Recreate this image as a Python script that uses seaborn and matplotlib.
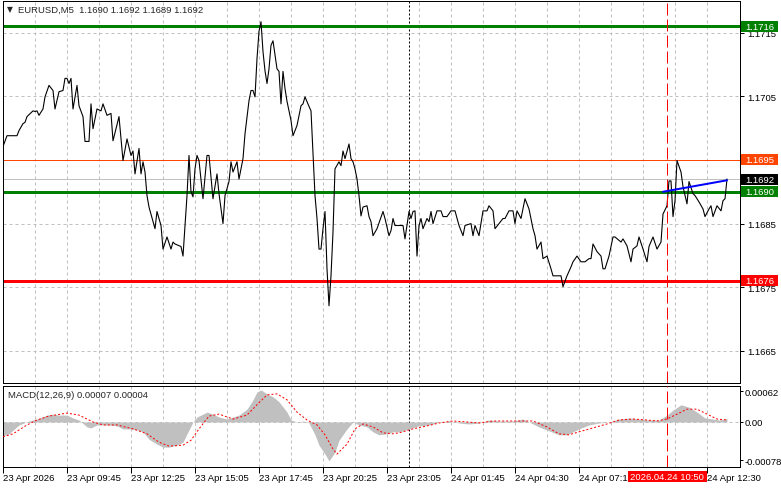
import matplotlib
matplotlib.use("Agg")
import matplotlib.pyplot as plt
import matplotlib.transforms as mtransforms
from matplotlib.patches import Rectangle
import pandas as pd
import seaborn as sns

# ---- data (bar = number of M5 bars since 23 Apr 07:05) ----
symbol_title = "EURUSD,M5  1.1690 1.1692 1.1689 1.1692"
macd_title = "MACD(12,26,9) 0.00007 0.00004"

price_bars = [
    0, 2, 7, 8, 10, 11, 12, 15, 16, 17,
    18, 20, 21, 23, 25, 26, 28, 30, 31, 32,
    33, 34, 35, 37, 38, 40, 41, 43, 44, 45,
    47, 49, 50, 52, 54, 55, 58, 59, 60, 62,
    64, 65, 66, 68, 69, 70, 71, 72, 73, 75,
    76, 77, 79, 80, 82, 84, 85, 86, 89, 90,
    91, 92, 93, 94, 95, 96, 97, 98, 100, 102,
    103, 105, 107, 108, 110, 111, 113, 114, 115, 117,
    118, 120, 121, 123, 124, 125, 126, 127, 128, 129,
    130, 131, 132, 133, 134, 135, 137, 138, 139, 140,
    141, 142, 144, 145, 147, 149, 150, 151, 153, 154,
    155, 156, 157, 158, 159, 160, 161, 162, 163, 164,
    165, 166, 168, 169, 170, 171, 173, 174, 175, 176,
    177, 178, 179, 180, 182, 183, 184, 185, 187, 190,
    191, 193, 194, 195, 196, 199, 200, 201, 203, 204,
    205, 206, 207, 208, 209, 210, 212, 213, 214, 215,
    217, 219, 220, 222, 224, 226, 228, 230, 231, 234,
    235, 236, 238, 240, 242, 243, 245, 246, 248, 250,
    251, 253, 255, 256, 257, 259, 261, 263, 265, 266,
    267, 269, 270, 272, 274, 275, 278, 279, 280, 282,
    284, 285, 287, 289, 291, 293, 294, 295, 297, 299,
    300, 301, 303, 305, 306, 309, 310, 312, 314, 315,
    317, 318, 320, 322, 323, 325, 327, 329, 330, 332,
    333, 334, 335, 336, 337, 339, 340, 342, 343, 345,
    346, 348, 350, 351, 353, 354, 355, 357, 359, 360,
    361, 362,
]
price_close = [
    1.16971, 1.16988, 1.16988, 1.16996, 1.17007, 1.17009, 1.17018, 1.17027, 1.17026, 1.17027,
    1.17020, 1.17030, 1.17049, 1.17067, 1.17059, 1.17030, 1.17057, 1.17059, 1.17078, 1.17078,
    1.17070, 1.17078, 1.17030, 1.17067, 1.17035, 1.17018, 1.16979, 1.16979, 1.17038, 1.16999,
    1.17030, 1.17027, 1.17038, 1.17020, 1.17023, 1.16980, 1.17018, 1.16983, 1.16949, 1.16983,
    1.16957, 1.16964, 1.16928, 1.16968, 1.16928, 1.16947, 1.16931, 1.16894, 1.16876, 1.16853,
    1.16842, 1.16869, 1.16847, 1.16810, 1.16829, 1.16810, 1.16821, 1.16818, 1.16814, 1.16799,
    1.16847, 1.16894, 1.16957, 1.16900, 1.16892, 1.16936, 1.16957, 1.16949, 1.16889, 1.16957,
    1.16957, 1.16889, 1.16928, 1.16897, 1.16850, 1.16894, 1.16916, 1.16947, 1.16931, 1.16947,
    1.16920, 1.16952, 1.16991, 1.17043, 1.17059, 1.17059, 1.17049, 1.17109, 1.17152, 1.17167,
    1.17120, 1.17090, 1.17070, 1.17093, 1.17130, 1.17137, 1.17093, 1.17089, 1.17038, 1.17089,
    1.17062, 1.17042, 1.17012, 1.16988, 1.17004, 1.17035, 1.17038, 1.17049, 1.17034, 1.17027,
    1.16960, 1.16894, 1.16858, 1.16810, 1.16810, 1.16842, 1.16869, 1.16779, 1.16721, 1.16768,
    1.16837, 1.16936, 1.16947, 1.16941, 1.16964, 1.16952, 1.16975, 1.16952, 1.16947, 1.16936,
    1.16920, 1.16894, 1.16862, 1.16876, 1.16878, 1.16861, 1.16853, 1.16831, 1.16842, 1.16869,
    1.16858, 1.16831, 1.16839, 1.16858, 1.16847, 1.16847, 1.16847, 1.16826, 1.16869, 1.16858,
    1.16869, 1.16870, 1.16799, 1.16847, 1.16858, 1.16842, 1.16858, 1.16853, 1.16869, 1.16850,
    1.16870, 1.16870, 1.16861, 1.16861, 1.16870, 1.16870, 1.16847, 1.16831, 1.16847, 1.16850,
    1.16831, 1.16847, 1.16831, 1.16870, 1.16870, 1.16878, 1.16870, 1.16842, 1.16850, 1.16858,
    1.16858, 1.16870, 1.16870, 1.16850, 1.16870, 1.16858, 1.16889, 1.16873, 1.16842, 1.16831,
    1.16810, 1.16821, 1.16795, 1.16799, 1.16779, 1.16768, 1.16768, 1.16768, 1.16751, 1.16768,
    1.16782, 1.16790, 1.16799, 1.16790, 1.16790, 1.16795, 1.16795, 1.16818, 1.16806, 1.16799,
    1.16779, 1.16779, 1.16799, 1.16829, 1.16829, 1.16821, 1.16826, 1.16815, 1.16790, 1.16810,
    1.16815, 1.16829, 1.16810, 1.16790, 1.16814, 1.16829, 1.16810, 1.16821, 1.16865, 1.16878,
    1.16917, 1.16917, 1.16861, 1.16886, 1.16949, 1.16931, 1.16908, 1.16881, 1.16916, 1.16897,
    1.16894, 1.16884, 1.16873, 1.16861, 1.16873, 1.16878, 1.16861, 1.16878, 1.16870, 1.16886,
    1.16889, 1.16920,
]

trend_bars = [330, 362]
trend_price = [1.16900, 1.16918]

level_prices = [1.1716, 1.1695, 1.1692, 1.1690, 1.1676]
level_labels = ["1.1716", "1.1695", "1.1692", "1.1690", "1.1676"]

hist_bars = [
    0, 3, 8, 13, 17, 22, 25, 28, 32, 35,
    38, 42, 44, 47, 50, 53, 57, 60, 63, 67,
    70, 73, 77, 80, 83, 87, 90, 92, 95, 97,
    99, 102, 105, 108, 112, 115, 118, 122, 125, 127,
    129, 132, 135, 138, 142, 144, 147, 150, 153, 156,
    158, 161, 163, 166, 168, 172, 175, 178, 182, 185,
    188, 192, 195, 198, 203, 208, 213, 218, 223, 228,
    233, 238, 243, 248, 255, 260, 265, 268, 273, 278,
    282, 285, 288, 293, 298, 303, 308, 313, 318, 323,
    328, 332, 335, 339, 343, 347, 351, 355, 358, 362,
]
hist_values = [
    -0.00028, -0.00024, -0.00006, 0.00002, 0.00006, 0.00014, 0.00016, 0.00014, 0.00014, 0.00008,
    0.00004, -0.00010, -0.00012, -0.00006, -0.00006, -0.00006, -0.00008, -0.00014, -0.00014, -0.00016,
    -0.00020, -0.00035, -0.00045, -0.00051, -0.00051, -0.00047, -0.00041, -0.00024, 0.0, 0.00010,
    0.00014, 0.00020, 0.00016, 0.00010, 0.00006, 0.00010, 0.00014, 0.00026, 0.00045, 0.00061,
    0.00065, 0.00057, 0.00051, 0.00041, 0.00020, 0.00004, 0.0, 0.00002, -0.00002, -0.00026,
    -0.00047, -0.00065, -0.00079, -0.00061, -0.00037, -0.00014, 0.0, -0.00006, -0.00010, -0.00020,
    -0.00026, -0.00024, -0.00020, -0.00020, -0.00014, -0.00008, -0.00006, 0.0, 0.00002, -0.00002,
    -0.00004, -0.00002, 0.00004, 0.00002, 0.00002, 0.00006, -0.00004, -0.00010, -0.00018, -0.00026,
    -0.00026, -0.00020, -0.00014, -0.00006, -0.00002, 0.0, 0.00006, 0.00008, 0.00006, 0.00004,
    0.00004, 0.00014, 0.00024, 0.00035, 0.00030, 0.00020, 0.00008, 0.00006, 0.00004, 0.00007,
]

signal_bars = [
    0, 5, 12, 17, 23, 32, 38, 45, 50, 57,
    65, 72, 78, 83, 90, 94, 98, 103, 108, 115,
    122, 127, 132, 137, 142, 147, 152, 157, 161, 165,
    167, 172, 176, 180, 185, 190, 195, 198, 205, 212,
    218, 225, 232, 238, 245, 252, 258, 265, 272, 278,
    283, 288, 295, 302, 308, 315, 322, 327, 332, 337,
    342, 347, 352, 357, 362,
]
signal_values = [
    -0.00030, -0.00024, -0.00006, 0.00004, 0.00012, 0.00018, 0.00014, 0.0, -0.00006, -0.00006,
    -0.00014, -0.00024, -0.00041, -0.00049, -0.00047, -0.00037, -0.00014, 0.00012, 0.00016, 0.00006,
    0.00014, 0.00035, 0.00055, 0.00057, 0.00045, 0.00020, 0.00004, -0.00006, -0.00026, -0.00055,
    -0.00065, -0.00045, -0.00014, -0.00004, -0.00010, -0.00022, -0.00024, -0.00022, -0.00014, -0.00008,
    -0.00002, 0.00002, 0.0, -0.00002, 0.00002, 0.00002, 0.00002, 0.00002, -0.00010, -0.00024,
    -0.00026, -0.00020, -0.00012, -0.00004, 0.00004, 0.00006, 0.00004, 0.00002, 0.00006, 0.00016,
    0.00026, 0.00026, 0.00016, 0.00006, 0.00004,
]

# tick 1.1695 sits under its level box in the reference, so it has no visible text
price_ticks = [1.1665, 1.1675, 1.1685, 1.1695, 1.1705, 1.1715]
price_tick_labels = ["1.1665", "1.1675", "1.1685", "", "1.1705", "1.1715"]
macd_ticks = [-0.00078, 0.0, 0.00062]
macd_tick_labels = ["-0.00078", "0.00", "0.00062"]
# the 09:50 label is hidden under the cursor time box in the reference
time_tick_bars = [0, 32, 64, 96, 128, 160, 192, 224, 256, 288, 352]
time_tick_labels = [
    "23 Apr 2026", "23 Apr 09:45", "23 Apr 12:25", "23 Apr 15:05",
    "23 Apr 17:45", "23 Apr 20:25", "23 Apr 23:05", "24 Apr 01:45",
    "24 Apr 04:30", "24 Apr 07:10", "24 Apr 12:30",
]
day_break_bar = 203
cursor_bar = 332
cursor_label = "2026.04.24 10:50"

# ---- styling ----
W, H = 781, 489
PX = 0.72  # one pixel in points at dpi 100
GRID = "#c0c0c0"
level_colors = ["#008000", "#ff4500", "#000000", "#008000", "#ff0000"]
level_line_colors = ["#008000", "#ff4500", "#c0c0c0", "#008000", "#ff0000"]
level_widths = [3, 1, 1, 3, 3]
FS = 6.8

sns.set_style("white")
plt.rcParams["font.family"] = ["Liberation Sans", "DejaVu Sans"]
plt.rcParams["font.size"] = FS


def px_rect(x0, y0, x1, y1):
    return [x0 / W, 1 - y1 / H, (x1 - x0) / W, (y1 - y0) / H]


fig = plt.figure(figsize=(W / 100, H / 100), dpi=100)
fig.patch.set_facecolor("white")
ax = fig.add_axes(px_rect(2.5, 1.5, 740, 384))
ax_m = fig.add_axes(px_rect(2.5, 387, 740, 468))

price_df = pd.DataFrame({"bar": price_bars, "close": price_close})
hist_df = pd.DataFrame({"bar": hist_bars, "macd": hist_values})
signal_df = pd.DataFrame({"bar": signal_bars, "signal": signal_values})
trend_df = pd.DataFrame({"bar": trend_bars, "price": trend_price})

x_lo, x_hi = -0.25, 368.5
price_lo, price_hi = 1.165997, 1.172003
macd_lo, macd_hi = -0.000913, 0.000730

for a in (ax, ax_m):
    a.set_facecolor("white")
    for s in a.spines.values():
        s.set_visible(True)
        s.set_color("black")
        s.set_linewidth(PX)
    a.set_xlim(x_lo, x_hi)
    a.set_xticks(time_tick_bars)
    a.grid(False)
    for b in range(16, 368, 16):
        a.axvline(b, color=GRID, lw=PX, ls=(0, (3, 3)), zorder=0.5)
    a.axvline(day_break_bar, color="black", lw=PX, ls=(0, (2, 2)), zorder=1)
    a.axvline(cursor_bar, color="red", lw=PX, ls=(0, (12, 4)), zorder=4)
    a.yaxis.tick_right()

ax.tick_params(axis="y", direction="out", length=3, width=PX, pad=2,
               labelsize=FS, colors="black", right=True, left=False)
ax_m.tick_params(axis="y", direction="out", length=2, width=PX, pad=1,
                 labelsize=FS, colors="black", right=True, left=False)

# ---- price pane ----
ax.set_ylim(price_lo, price_hi)
ax.set_yticks(price_ticks)
ax.set_yticklabels(price_tick_labels)
for t in price_ticks:
    ax.axhline(t, color=GRID, lw=PX, ls=(0, (3, 3)), zorder=0.5)
ax.tick_params(axis="x", which="both", length=0, labelbottom=False)

for lvl, lc, lw in zip(level_prices, level_line_colors, level_widths):
    ax.axhline(lvl, color=lc, lw=lw * PX, zorder=2)

sns.lineplot(data=price_df, x="bar", y="close", ax=ax, color="black",
             lw=1.1 * PX, estimator=None, sort=False, zorder=3)
sns.lineplot(data=trend_df, x="bar", y="price", ax=ax, color="#0000ff",
             lw=2 * PX, estimator=None, sort=False, zorder=4)
ax.set_xlabel("")
ax.set_ylabel("")
ax.set_xlim(x_lo, x_hi)

blend = mtransforms.blended_transform_factory(ax.transAxes, ax.transData)
ax_w_px = 740 - 2.5
px_price = (price_hi - price_lo) / (384 - 1.5)
for lvl, lab, fc in zip(level_prices, level_labels, level_colors):
    ax.add_patch(Rectangle(((741 - 2.5) / ax_w_px, lvl - 5.5 * px_price), 37 / ax_w_px,
                           11 * px_price, transform=blend, facecolor=fc,
                           edgecolor="none", clip_on=False, zorder=6))
    ax.text((759.5 - 2.5) / ax_w_px, lvl, lab, transform=blend, color="white",
            ha="center", va="center", fontsize=FS, clip_on=False, zorder=7)

fig.text(10 / W, 1 - 10 / H, "\u25bc", fontsize=5.5, ha="center", va="center",
         family=["DejaVu Sans"])
fig.text(18 / W, 1 - 10 / H, symbol_title, fontsize=FS, ha="left", va="center")

# ---- MACD pane ----
ax_m.set_ylim(macd_lo, macd_hi)
ax_m.set_yticks(macd_ticks)
ax_m.set_yticklabels(macd_tick_labels)
ax_m.axhline(0, color=GRID, lw=PX, ls=(0, (3, 3)), zorder=0.5)
ax_m.fill_between(hist_df["bar"], 0, hist_df["macd"], color="#c0c0c0", lw=0, zorder=1.5)
sns.lineplot(data=signal_df, x="bar", y="signal", ax=ax_m, color="red",
             lw=PX, ls=(0, (2, 2)), estimator=None, sort=False, zorder=3)
ax_m.set_xlabel("")
ax_m.set_ylabel("")
ax_m.set_xlim(x_lo, x_hi)
ax_m.set_xticklabels(time_tick_labels)
ax_m.tick_params(axis="x", which="major", direction="out", length=4, width=PX,
                 pad=0, labelsize=FS, colors="black", bottom=True)
for lbl in ax_m.get_xticklabels():
    lbl.set_ha("left")

fig.text(8 / W, 1 - 396 / H, macd_title, fontsize=FS, ha="left", va="center")

# cursor time box on the time scale
cx = 3 + 2 * cursor_bar
fig.add_artist(Rectangle(((cx - 39.5) / W, 1 - 483 / H), 79 / W, 11 / H,
                         transform=fig.transFigure, facecolor="red",
                         edgecolor="none", zorder=5))
fig.text(cx / W, 1 - 477.5 / H, cursor_label, color="white", fontsize=FS,
         ha="center", va="center", zorder=6)

fig.savefig("out.png", dpi=100, facecolor="white")
